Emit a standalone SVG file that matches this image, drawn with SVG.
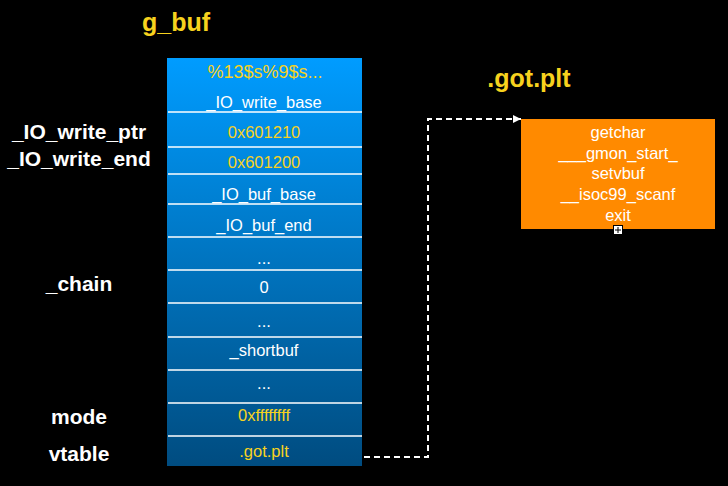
<svg xmlns="http://www.w3.org/2000/svg" width="728" height="486" viewBox="0 0 728 486">
<defs>
<linearGradient id="blue" x1="0" y1="0" x2="0" y2="1">
<stop offset="0" stop-color="#009cff"/>
<stop offset="1" stop-color="#004c80"/>
</linearGradient>
<marker id="arr" viewBox="0 0 10 10" refX="10" refY="5" markerWidth="8" markerHeight="8" markerUnits="userSpaceOnUse" orient="auto">
<path d="M0,0 L10,5 L0,10 z" fill="#ffffff"/>
</marker>
<style>
text{font-family:"Liberation Sans",Arial,sans-serif;text-anchor:middle;dominant-baseline:central}
.cell{font-size:16.5px;fill:#ffffff}
.y{fill:#f7d21e}
.lbl{font-size:21px;font-weight:bold;fill:#ffffff}
.ttl{font-size:25px;font-weight:bold;fill:#f7d21e}
.got{font-size:16.5px;fill:#ffffff}
.sep{stroke:#ffffff;stroke-width:1.5}
</style>
</defs>
<rect width="728" height="486" fill="#000000"/>
<g id="title-gbuf"><text class="ttl" x="176" y="22">g_buf</text></g>
<g id="title-got"><text class="ttl" x="529" y="78">.got.plt</text></g>
<g id="labels">
<text class="lbl" x="79" y="131">_IO_write_ptr</text>
<text class="lbl" x="79" y="158">_IO_write_end</text>
<text class="lbl" x="79" y="283">_chain</text>
<text class="lbl" x="79" y="416">mode</text>
<text class="lbl" x="79" y="453">vtable</text>
</g>
<g id="gbuf">
<rect x="167" y="58" width="195" height="408" fill="url(#blue)"/>
<line class="sep" x1="168" y1="112" x2="362" y2="112"/>
<line class="sep" x1="168" y1="147" x2="362" y2="147"/>
<line class="sep" x1="168" y1="174" x2="362" y2="174"/>
<line class="sep" x1="168" y1="204" x2="362" y2="204"/>
<line class="sep" x1="168" y1="237" x2="362" y2="237"/>
<line class="sep" x1="168" y1="270" x2="362" y2="270"/>
<line class="sep" x1="168" y1="303" x2="362" y2="303"/>
<line class="sep" x1="168" y1="337" x2="362" y2="337"/>
<line class="sep" x1="168" y1="370" x2="362" y2="370"/>
<line class="sep" x1="168" y1="403" x2="362" y2="403"/>
<line class="sep" x1="168" y1="436" x2="362" y2="436"/>
<text class="cell y" x="265" y="72" style="font-size:18px">%13$s%9$s...</text>
<text class="cell" x="264" y="102">_IO_write_base</text>
<text class="cell y" x="264" y="132">0x601210</text>
<text class="cell y" x="264" y="162">0x601200</text>
<text class="cell" x="264" y="194">_IO_buf_base</text>
<text class="cell" x="264" y="225">_IO_buf_end</text>
<text class="cell" x="264" y="258">...</text>
<text class="cell" x="264" y="287">0</text>
<text class="cell" x="264" y="321">...</text>
<text class="cell" x="264" y="350">_shortbuf</text>
<text class="cell" x="264" y="383">...</text>
<text class="cell y" x="264" y="415">0xffffffff</text>
<text class="cell y" x="264" y="451">.got.plt</text>
</g>
<g id="gotplt">
<rect x="521" y="119" width="194" height="110" fill="#ff8a00"/>
<text class="got" x="618" y="132">getchar</text>
<text class="got" x="618" y="153">___gmon_start_</text>
<text class="got" x="618" y="173">setvbuf</text>
<text class="got" x="618" y="194">__isoc99_scanf</text>
<text class="got" x="618" y="215">exit</text>
<rect x="613.5" y="225.5" width="9" height="9" fill="#ffffff" stroke="#000000" stroke-width="1"/>
<path d="M618,227 V233 M615,230 H621" stroke="#000000" stroke-width="1"/>
</g>
<g id="connectors">
<path d="M364,457 H428 V119 H521" fill="none" stroke="#ffffff" stroke-width="2" stroke-dasharray="6 4" marker-end="url(#arr)"/>
</g>
</svg>
